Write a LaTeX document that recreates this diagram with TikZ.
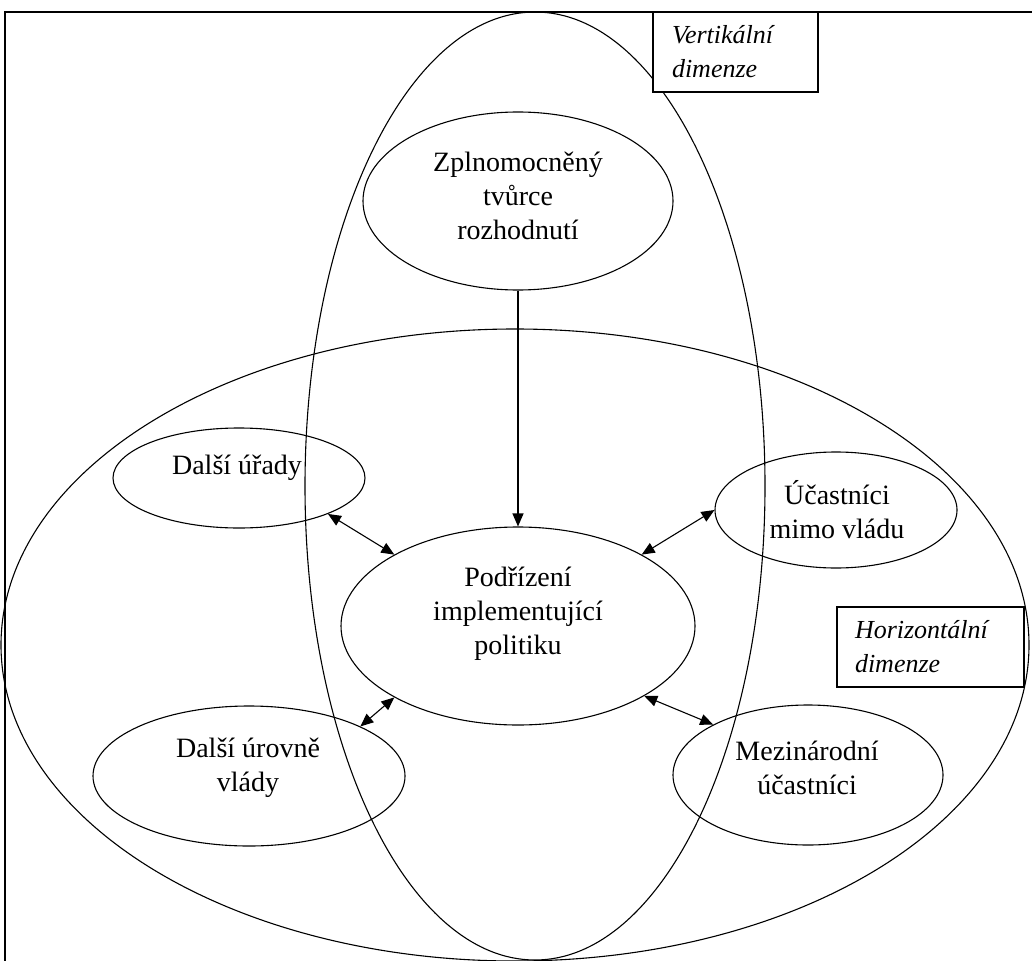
\documentclass[tikz,border=0pt]{standalone}
\usepackage{fontspec}
\setmainfont{Liberation Serif}
\usetikzlibrary{shapes.geometric,arrows.meta}
\begin{document}
\begin{tikzpicture}[x=1pt,y=-1pt,
  oval/.style={draw,ellipse,inner sep=0pt,line width=1.1pt},
  txt/.style={align=center,inner sep=0pt,font=\fontsize{28}{34}\selectfont},
  dimbox/.style={draw,fill=white,line width=1.6pt,align=left,inner sep=0pt,font=\fontsize{26}{34}\selectfont\itshape},
  arr/.style={line width=1.1pt,-{Triangle[length=13pt,width=11pt]}},
  darr/.style={line width=1.1pt,{Triangle[length=13pt,width=11pt]}-{Triangle[length=13pt,width=11pt]}},
]
\useasboundingbox (0,0) rectangle (1032,960);
\clip (0,0) rectangle (1032,960);
\fill[white] (0,0) rectangle (1032,960);

% frame
\draw[line width=1.6pt] (5,962) -- (5,12) -- (1034,12);

% large ellipses
\node[oval,minimum width=460pt,minimum height=948pt] (vert) at (535,486) {};
\node[oval,minimum width=1028pt,minimum height=632pt] (horiz) at (515,645) {};

% actor ellipses
\node[oval,minimum width=310pt,minimum height=178pt] (top) at (518,201) {};
\node[oval,minimum width=252pt,minimum height=100pt] (urady) at (239,478) {};
\node[oval,minimum width=242pt,minimum height=116pt] (mimo) at (836,510) {};
\node[oval,minimum width=354pt,minimum height=198pt] (center) at (518,626) {};
\node[oval,minimum width=312pt,minimum height=140pt] (urovne) at (249,776) {};
\node[oval,minimum width=270pt,minimum height=140pt] (mezi) at (808,775) {};

% texts
\node[txt] (ttop) at (518,196) {Zplnomocněný\\tvůrce\\rozhodnutí};
\node[txt] (turady) at (237,468) {Další úřady};
\node[txt] (tmimo) at (837,510) {Účastníci\\mimo vládu};
\node[txt] (tcenter) at (518,614) {Podřízení\\implementující\\politiku};
\node[txt] (turovne) at (248,768) {Další úrovně\\vlády};
\node[txt] (tmezi) at (807,768) {Mezinárodní\\účastníci};

% connectors
\draw[arr] (top.south) -- (center.north);
\draw[darr] (urady.-22) -- (center.150);
\draw[darr] (mimo.west) -- (center.30);
\draw[darr] (urovne.24) -- (center.210);
\draw[darr] (mezi.152) -- (center.331);

% dimension labels
\node[dimbox,minimum width=165pt,minimum height=80pt,text width=127pt] (vdim) at (735.5,52) {Vertikální\\dimenze};
\node[dimbox,minimum width=187pt,minimum height=80pt,text width=151pt] (hdim) at (930.5,647) {Horizontální\\dimenze};
\end{tikzpicture}
\end{document}
